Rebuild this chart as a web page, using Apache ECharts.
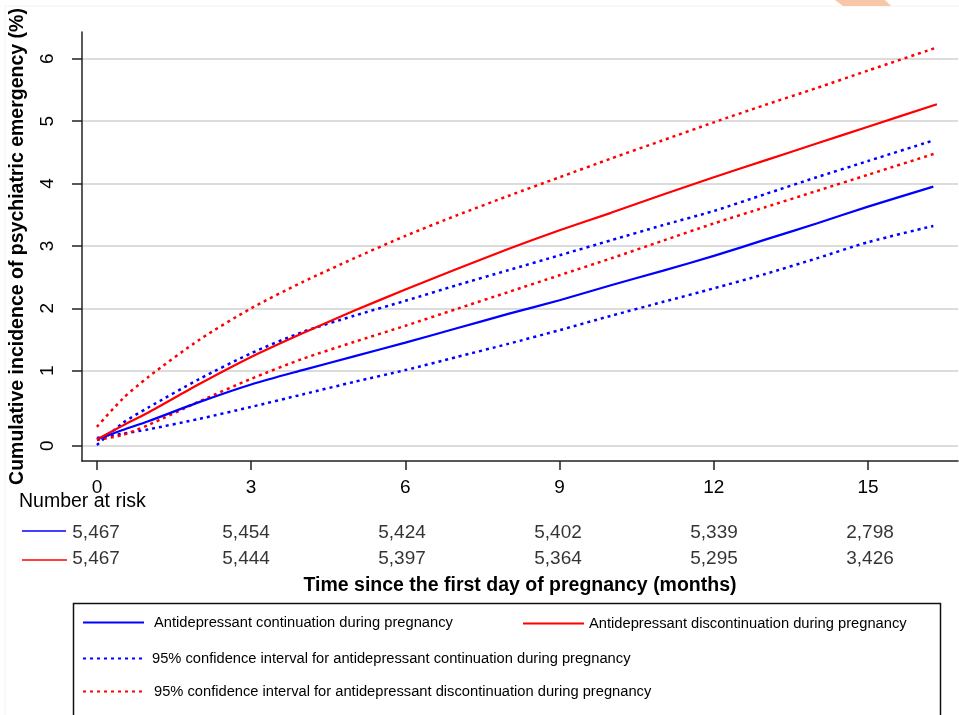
<!DOCTYPE html>
<html>
<head>
<meta charset="utf-8">
<script src="https://cdn.jsdelivr.net/npm/echarts@6/dist/echarts.min.js"></script>
<style>
  html, body { margin: 0; padding: 0; background: #fff; }
  #chart { width: 959px; height: 715px; }
</style>
</head>
<body>
<div id="chart"></div>
<script>
// months since first day of pregnancy
var monthsRed  = [0, 0.5, 1, 2, 3, 4, 5, 6, 7, 8, 9, 10, 11, 12, 13, 14, 15, 16.34];
var monthsBlue = [0, 0.5, 1, 2, 3, 4, 5, 6, 7, 8, 9, 10, 11, 12, 13, 14, 15, 16.27];

// cumulative incidence (%)
var contEst   = [-0.10, 0.05, 0.19, 0.50, 0.78, 1.01, 1.23, 1.45, 1.68, 1.91, 2.13, 2.37, 2.60, 2.84, 3.10, 3.36, 3.63, 3.95];
var contUpper = [-0.19, 0.16, 0.41, 0.87, 1.28, 1.62, 1.88, 2.12, 2.37, 2.61, 2.85, 3.09, 3.33, 3.56, 3.83, 4.10, 4.36, 4.69];
var contLower = [-0.08, -0.01, 0.06, 0.23, 0.42, 0.62, 0.82, 1.01, 1.22, 1.43, 1.65, 1.88, 2.10, 2.32, 2.55, 2.80, 3.06, 3.32];
var discEst   = [-0.10, 0.12, 0.33, 0.79, 1.22, 1.60, 1.96, 2.30, 2.63, 2.95, 3.25, 3.53, 3.82, 4.10, 4.37, 4.64, 4.91, 5.27];
var discUpper = [0.10, 0.55, 0.90, 1.50, 2.00, 2.42, 2.80, 3.16, 3.49, 3.80, 4.10, 4.40, 4.69, 4.98, 5.26, 5.53, 5.81, 6.18];
var discLower = [-0.11, -0.03, 0.13, 0.51, 0.87, 1.19, 1.46, 1.72, 1.99, 2.26, 2.53, 2.80, 3.08, 3.36, 3.62, 3.88, 4.14, 4.49];

// axis ticks
var xTicks = [0, 3, 6, 9, 12, 15];
var yTickValues = [-0.202, 1, 2, 3, 4, 5, 6];
var yTickLabels = ['0', '1', '2', '3', '4', '5', '6'];

// number at risk
var riskMonths = [0, 3, 6, 9, 12, 15];
var riskCont = ['5,467', '5,454', '5,424', '5,402', '5,339', '2,798'];
var riskDisc = ['5,467', '5,444', '5,397', '5,364', '5,295', '3,426'];

var nameCont = 'Antidepressant continuation during pregnancy';
var nameDisc = 'Antidepressant discontinuation during pregnancy';
var nameContCI = '95% confidence interval for antidepressant continuation during pregnancy';
var nameDiscCI = '95% confidence interval for antidepressant discontinuation during pregnancy';

var BLUE = '#0000ff', RED = '#ff0000';
var FONT = '"Liberation Sans", Arial, sans-serif';

function pairs(xs, ys) {
    return xs.map(function (x, i) { return [x, ys[i]]; });
}

function curve(name, xs, ys, color, dotted) {
    return {
        name: name,
        type: 'line',
        xAxisIndex: 0,
        yAxisIndex: 0,
        data: pairs(xs, ys),
        symbol: 'none',
        showSymbol: false,
        smooth: 0.25,
        silent: true,
        lineStyle: { color: color, width: dotted ? 2.5 : 2.2, type: dotted ? [3, 4] : 'solid' },
        itemStyle: { color: color },
        z: dotted ? 3 : 4
    };
}

function riskSeries(values, row) {
    return {
        type: 'scatter',
        xAxisIndex: 1,
        yAxisIndex: 1,
        symbolSize: 1,
        silent: true,
        itemStyle: { color: 'rgba(0,0,0,0)' },
        data: riskMonths.map(function (m, i) {
            return {
                value: [m, row, values[i]],
                label: { offset: [i === 0 ? 9 : 3, 0] }
            };
        }),
        label: {
            show: true,
            position: 'inside',
            color: '#000',
            fontFamily: FONT,
            fontSize: 19,
            formatter: function (p) { return p.value[2]; }
        }
    };
}

function legendAt(name, left, top, gap) {
    return {
        data: [name],
        left: left,
        top: top,
        itemWidth: 61,
        itemHeight: 14,
        selectedMode: false,
        padding: 0,
        itemStyle: { opacity: 0 },
        textStyle: { fontFamily: FONT, fontSize: 14.7, color: '#000', padding: [0, 0, 0, gap] }
    };
}

var chart = echarts.init(document.getElementById('chart'), null, { renderer: 'canvas' });

var option = {
    backgroundColor: '#fff',
    animation: false,
    grid: [
        { left: 72, right: 1, top: 32, bottom: 254 },
        { left: 72, right: 1, top: 520, height: 52 }
    ],
    xAxis: [{
        type: 'value',
        gridIndex: 0,
        min: -0.29,
        max: 16.75,
        name: 'Time since the first day of pregnancy (months)',
        nameLocation: 'middle',
        nameGap: 115,
        nameTextStyle: { fontFamily: FONT, fontSize: 19.5, fontWeight: 'bold', color: '#000' },
        axisLine: { onZero: false, lineStyle: { color: '#222', width: 1.5 } },
        axisTick: { customValues: xTicks, length: 9, lineStyle: { color: '#222', width: 1.5 } },
        axisLabel: { customValues: xTicks, margin: 17, fontFamily: FONT, fontSize: 19, color: '#000' },
        splitLine: { show: false }
    }, {
        type: 'value',
        gridIndex: 1,
        min: -0.29,
        max: 16.75,
        show: false
    }],
    yAxis: [{
        type: 'value',
        gridIndex: 0,
        min: -0.447,
        max: 6.428,
        name: 'Cumulative incidence of psychiatric emergency (%)',
        nameLocation: 'middle',
        nameGap: 54,
        nameTextStyle: { fontFamily: FONT, fontSize: 19.5, fontWeight: 'bold', color: '#000' },
        axisLine: { show: true, onZero: false, lineStyle: { color: '#222', width: 1.5 } },
        axisTick: { show: true, customValues: yTickValues, length: 10, lineStyle: { color: '#222', width: 1.5 } },
        axisLabel: {
            customValues: yTickValues,
            rotate: 90,
            margin: 25,
            fontFamily: FONT,
            fontSize: 19,
            color: '#000',
            formatter: function (v) {
                var i = yTickValues.indexOf(v);
                return i >= 0 ? yTickLabels[i] : '';
            }
        },
        splitLine: { show: true, lineStyle: { color: '#dcdcdc', width: 2 } }
    }, {
        type: 'value',
        gridIndex: 1,
        min: 0,
        max: 2,
        inverse: true,
        show: false
    }],
    legend: [
        legendAt(nameCont, 82, 615, 5),
        legendAt(nameDisc, 522, 616, 0),
        legendAt(nameContCI, 82, 651, 3),
        legendAt(nameDiscCI, 82, 684, 5)
    ],
    series: [
        curve(nameContCI, monthsBlue, contUpper, BLUE, true),
        curve(nameContCI, monthsBlue, contLower, BLUE, true),
        curve(nameDiscCI, monthsRed, discUpper, RED, true),
        curve(nameDiscCI, monthsRed, discLower, RED, true),
        curve(nameCont, monthsBlue, contEst, BLUE, false),
        curve(nameDisc, monthsRed, discEst, RED, false),
        riskSeries(riskCont, 0.5),
        riskSeries(riskDisc, 1.5)
    ],
    graphic: [
        // faint page edge and logo corner from the source image
        { type: 'line', shape: { x1: 5, y1: 6, x2: 959, y2: 6 }, style: { stroke: '#f3f3f3', lineWidth: 1 }, silent: true },
        { type: 'line', shape: { x1: 5, y1: 6, x2: 5, y2: 715 }, style: { stroke: '#f3f3f3', lineWidth: 1 }, silent: true },
        { type: 'polygon', shape: { points: [[835, 0], [885, 0], [891, 6], [843, 6]] }, style: { fill: '#f8c6a9' }, silent: true },
        // number at risk header and row keys
        { type: 'text', left: 19, top: 492, style: { text: 'Number at risk', font: '19.5px ' + FONT, fill: '#000' }, silent: true },
        { type: 'line', shape: { x1: 22, y1: 531, x2: 66, y2: 531 }, style: { stroke: BLUE, lineWidth: 1.3 }, silent: true },
        { type: 'line', shape: { x1: 22, y1: 560, x2: 67, y2: 560 }, style: { stroke: RED, lineWidth: 1.3 }, silent: true },
        // legend frame
        { type: 'rect', shape: { x: 73.5, y: 603.5, width: 867, height: 130 }, style: { fill: 'none', stroke: '#111', lineWidth: 1.5 }, silent: true, z: -1 }
    ]
};

chart.setOption(option);

window.onresize = function () {
    chart.resize();
};
</script>
</body>
</html>
